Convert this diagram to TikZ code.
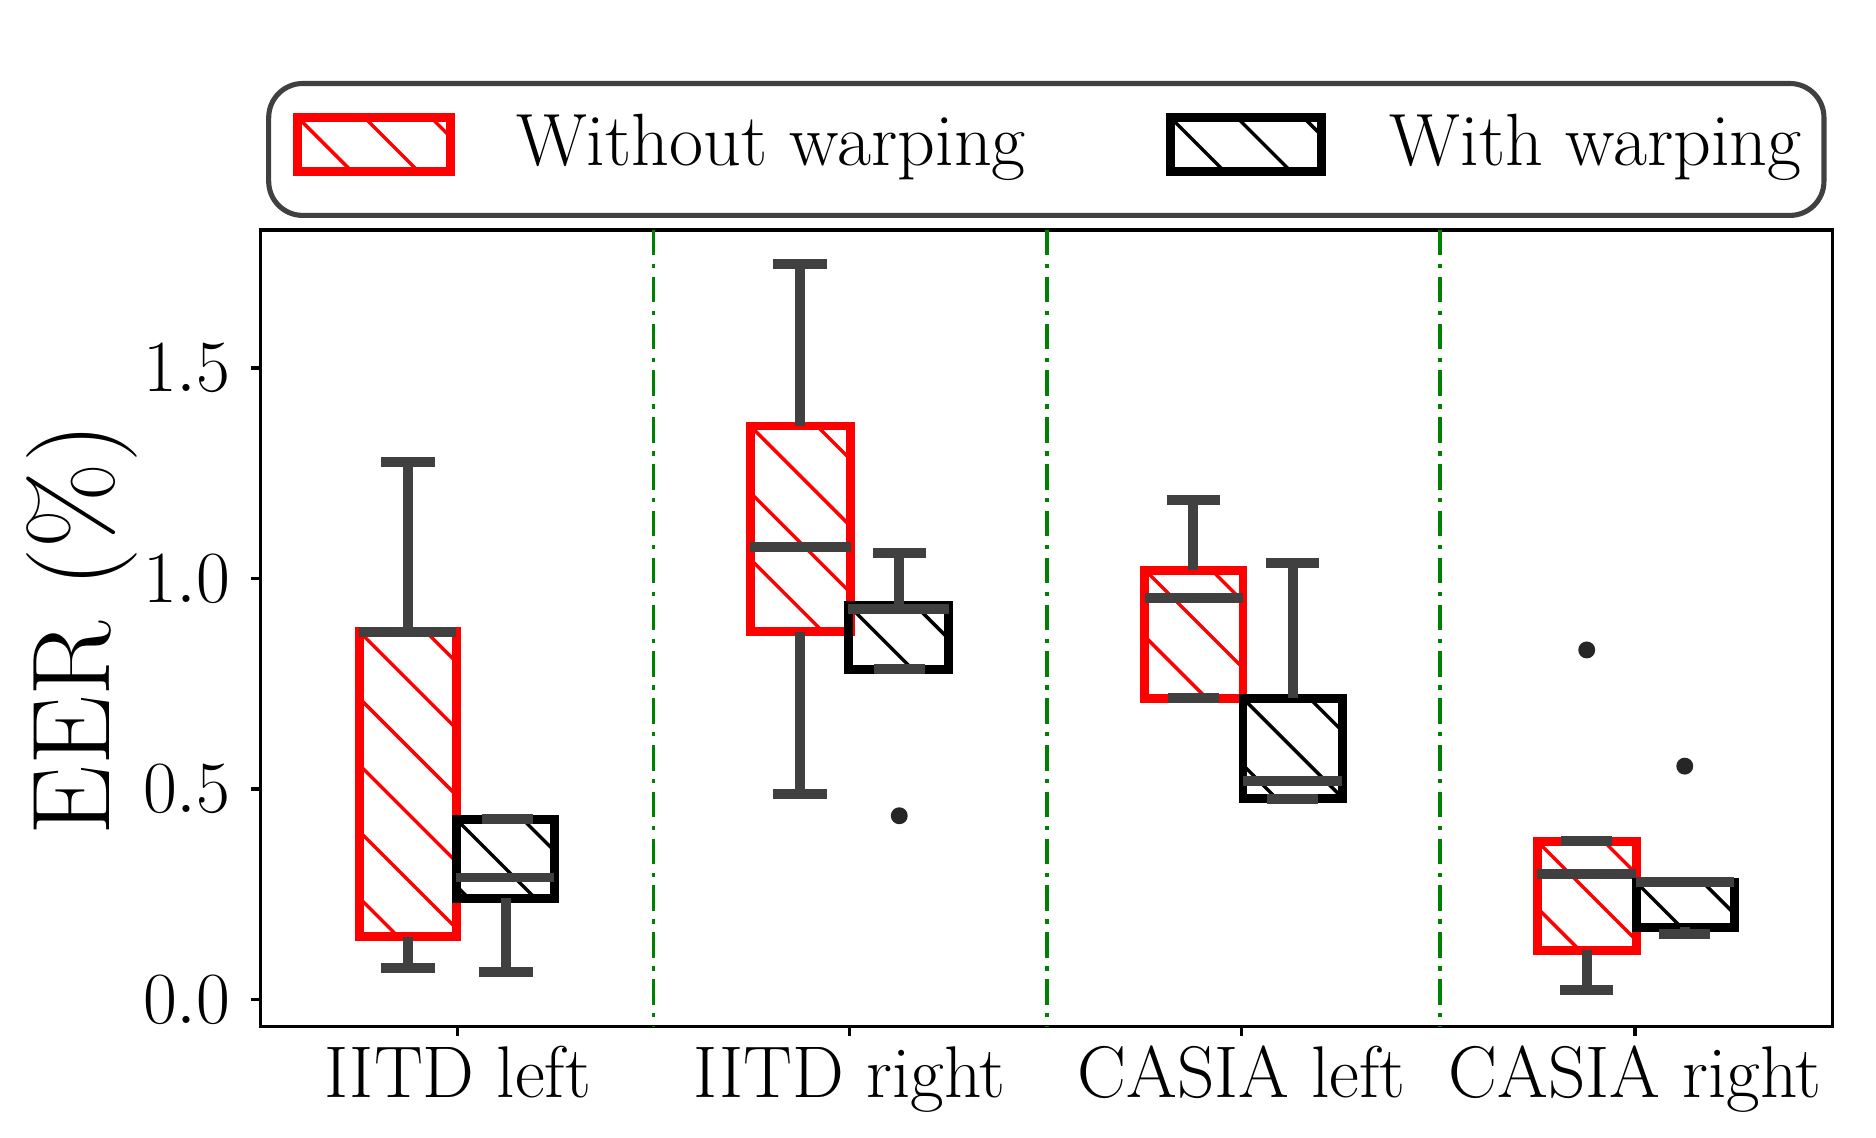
\documentclass[tikz,border=0pt]{standalone}
\usepackage{fontspec}
\begin{document}
\definecolor{dg}{HTML}{404040}
\definecolor{gr}{HTML}{008000}
\begin{tikzpicture}[x=0.01cm,y=-0.01cm,
  wh/.style={dg,line width=2.3pt},
  bxs/.style={line width=2.1pt},
  tick/.style={font=\fontsize{17}{17}\selectfont},
  cat/.style={font=\fontsize{17.2}{17.2}\selectfont},
  sep/.style={gr,line width=0.9pt,dash pattern=on 6pt off 2pt on 1pt off 2pt}]
\useasboundingbox (0,0) rectangle (1550,940);
\newcommand{\hbx}[5]{%
  \begin{scope}
  \clip (#1,#3) rectangle (#2,#4);
  \foreach \k in {-6,...,8}{\draw[#5,line width=0.8pt] ({#1+\k*55},#3) -- ++(300,300);}
  \end{scope}
  \draw[#5,bxs] (#1,#3) rectangle (#2,#4);}
\newcommand{\wsk}[4]{%
  \draw[wh] (#1,#2) -- (#1,#3); \draw[wh] ({#1-#4},#3) -- ({#1+#4},#3);}
\draw[line width=0.8pt] (215,190) rectangle (1514,848);
\foreach \x in {540,865,1190}{\draw[sep] (\x,190) -- (\x,848);}
\foreach \v/\l in {0/0.0,0.5/0.5,1/1.0,1.5/1.5}{
  \draw[line width=0.8pt] (215,{826-348*\v}) -- ++(-8,0);
  \node[tick,anchor=east] (t\l) at (203,{826-348*\v}) {$\l$};}
\node[rotate=90,font=\fontsize{26}{26}\selectfont] (yl) at (68,520) {EER (\%)};
\foreach \x/\l [count=\i] in {378/IITD left,702/IITD right,1026/CASIA left,1351/CASIA right}{
  \draw[line width=0.8pt] (\x,848) -- ++(0,8);
  \node[cat,anchor=north] (c\i) at (\x,852) {\l};}
\hbx{297}{377}{522}{774}{red}
\wsk{337}{522}{382}{22}\wsk{337}{774}{800}{22}
\draw[wh] (297,522) -- (377,522);
\hbx{377}{458}{677}{742}{black}
\wsk{418}{742}{803}{22}\draw[wh] (398,677) -- (440,677);
\draw[wh] (377,725) -- (458,725);
\hbx{620}{703}{352}{522}{red}
\wsk{661}{352}{218}{22}\wsk{661}{522}{656}{22}
\draw[wh] (620,452) -- (703,452);
\hbx{701}{784}{500}{553}{black}
\wsk{743}{500}{457}{22}\draw[wh] (722,553) -- (764,553);
\draw[wh] (701,503) -- (784,503);
\fill[black!85] (743,674) circle (7);
\hbx{946}{1027}{471}{577}{red}
\wsk{986}{471}{413}{22}\draw[wh] (965,577) -- (1007,577);
\draw[wh] (946,494) -- (1027,494);
\hbx{1027}{1109}{577}{660}{black}
\wsk{1068}{577}{465}{22}\draw[wh] (1047,660) -- (1089,660);
\draw[wh] (1027,645) -- (1109,645);
\hbx{1270}{1352}{695}{785}{red}
\draw[wh] (1290,695) -- (1332,695);\wsk{1311}{785}{818}{22}
\draw[wh] (1270,722) -- (1352,722);
\fill[black!85] (1311,537) circle (7);
\hbx{1352}{1433}{729}{766}{black}
\draw[wh] (1371,772) -- (1413,772);\draw[wh] (1392,766) -- (1392,772);
\draw[wh] (1352,729) -- (1433,729);
\fill[black!85] (1392,633) circle (7);
\draw[dg,line width=1.2pt,rounded corners=8] (222,69) rectangle (1507,178);
\hbx{246}{372}{97}{142}{red}
\node[font=\fontsize{17.4}{17.4}\selectfont,anchor=west] (l1) at (414,122) {Without warping};
\hbx{967}{1092}{97}{142}{black}
\node[font=\fontsize{17.4}{17.4}\selectfont,anchor=west] (l2) at (1136,122) {With warping};
\end{tikzpicture}
\end{document}
